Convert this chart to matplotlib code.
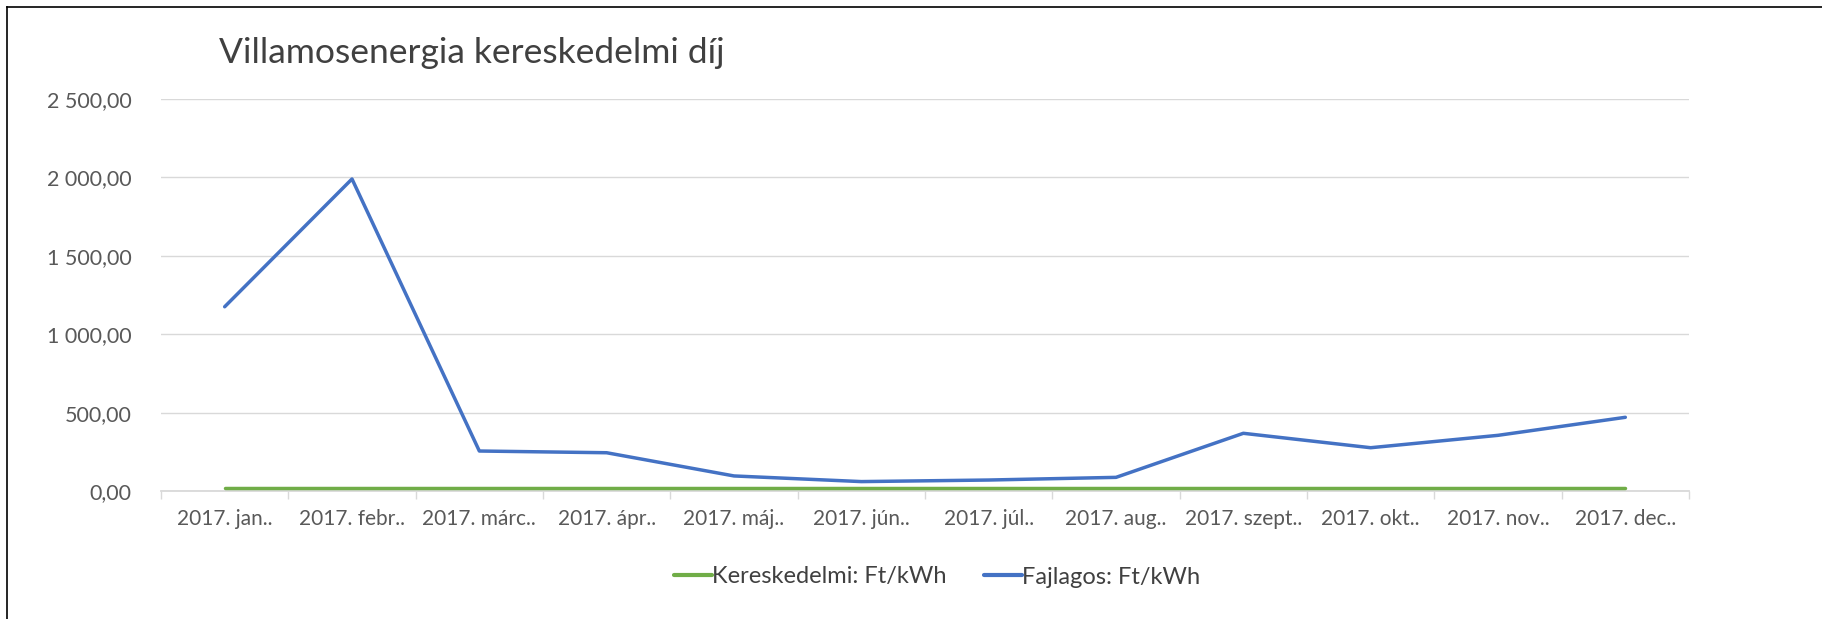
import matplotlib
matplotlib.use("Agg")
import matplotlib.pyplot as plt
from matplotlib.lines import Line2D
from matplotlib.ticker import FuncFormatter, FixedLocator
import numpy as np

categories = ["2017. jan..", "2017. febr..", "2017. márc..", "2017. ápr..", "2017. máj..",
              "2017. jún..", "2017. júl..", "2017. aug..", "2017. szept..", "2017. okt..",
              "2017. nov..", "2017. dec.."]
kereskedelmi = [17, 17, 17, 17, 17, 17, 17, 17, 17, 17, 17, 17]
fajlagos = [1175, 1990, 255, 244, 96, 60, 70, 87, 368, 276, 355, 470]
yticks = [0, 500, 1000, 1500, 2000, 2500]
title = "Villamosenergia kereskedelmi díj"

plt.rcParams['font.family'] = ['Lato', 'DejaVu Sans']
W, H = 1822, 619
fig = plt.figure(figsize=(W / 100, H / 100), dpi=100)
ax = fig.add_axes([161 / W, 1 - 491 / H, (1689 - 161) / W, (491 - 99) / H])

x = np.arange(len(categories))
ax.plot(x, kereskedelmi, color="#70AD47", lw=2.5, solid_capstyle="round", label="Kereskedelmi: Ft/kWh", zorder=3)
ax.plot(x, fajlagos, color="#4472C4", lw=2.5, solid_capstyle="round", solid_joinstyle="round", label="Fajlagos: Ft/kWh", zorder=4)

ax.set_xlim(-0.5, len(categories) - 0.5)
ax.set_ylim(0, 2500)
ax.set_yticks(yticks)

def fmt(v, pos):
    s = f"{v:,.2f}"
    return s.replace(",", " ").replace(".", ",")
ax.yaxis.set_major_formatter(FuncFormatter(fmt))

ax.set_xticks(x)
ax.set_xticklabels(categories)
ax.xaxis.set_minor_locator(FixedLocator(np.arange(-0.5, len(categories), 1.0)))
ax.tick_params(axis="x", which="major", length=0, pad=13, labelsize=15, labelcolor="#595959")
ax.tick_params(axis="x", which="minor", length=6, width=1, color="#D9D9D9")
ax.tick_params(axis="y", length=0, pad=21, labelsize=15.5, labelcolor="#595959")

ax.grid(axis="y", color="#D9D9D9", lw=1)
ax.set_axisbelow(True)
for s in ["top", "right", "left"]:
    ax.spines[s].set_visible(False)
ax.spines["bottom"].set_color("#D9D9D9")
ax.spines["bottom"].set_linewidth(1.3)

fig.text(219 / W, 1 - 53 / H, title, fontsize=25.5, color="#404040", ha="left", va="center")

leg = fig.legend(loc="center", bbox_to_anchor=(937 / W, 1 - 577 / H), ncol=2, frameon=False,
                 fontsize=17, handlelength=1.6, handletextpad=0.0, columnspacing=1.6)
for t in leg.get_texts():
    t.set_color("#404040")
for l in leg.get_lines():
    l.set_linewidth(3)

fig.add_artist(Line2D([7 / W, 7 / W], [0, 1 - 7 / H], transform=fig.transFigure, color="black", lw=1.2))
fig.add_artist(Line2D([7 / W, 1], [1 - 7 / H, 1 - 7 / H], transform=fig.transFigure, color="black", lw=1.2))

fig.savefig("out.png", dpi=100, facecolor="white")
